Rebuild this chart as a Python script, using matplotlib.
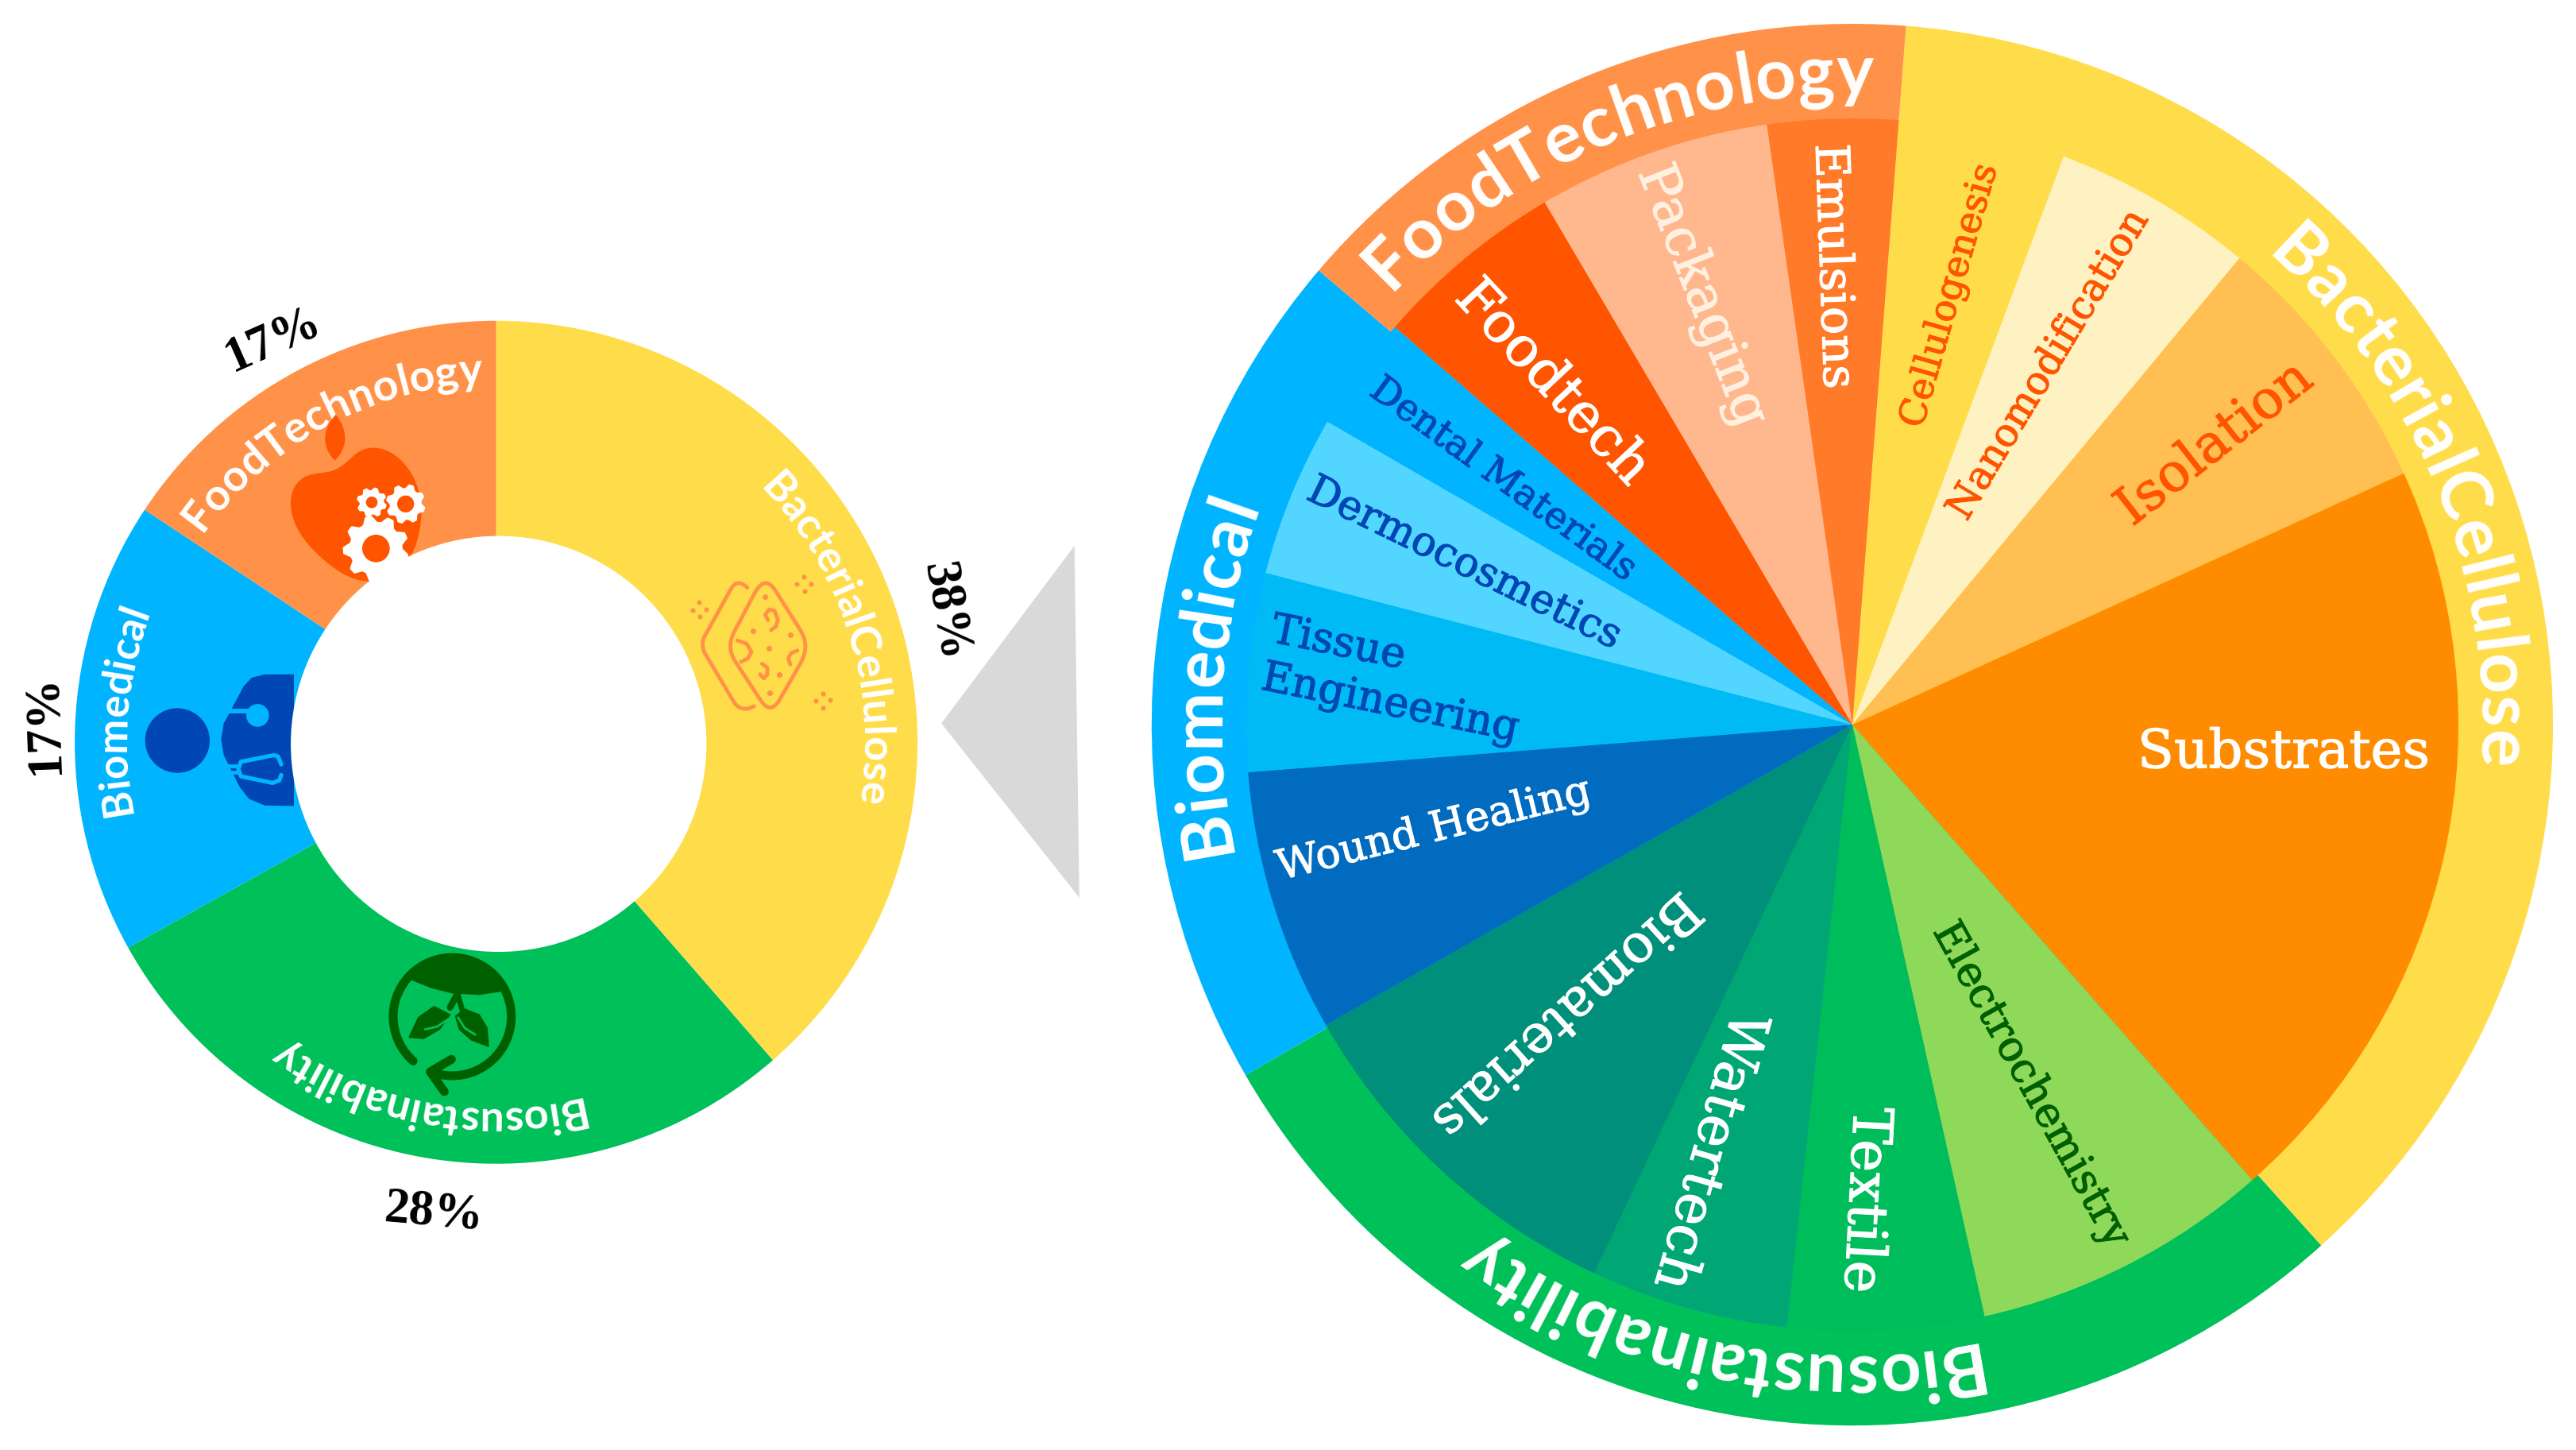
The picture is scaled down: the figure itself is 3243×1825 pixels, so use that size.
import numpy as np
import matplotlib
matplotlib.use('Agg')
import matplotlib.pyplot as plt
import matplotlib.patheffects as pe
from matplotlib.font_manager import FontProperties, findfont, get_font
from matplotlib.patches import Circle, PathPatch, Polygon
from matplotlib.path import Path
from matplotlib.textpath import TextToPath

# left donut, shares
donut_names = ['BacterialCellulose', 'Biosustainability', 'Biomedical', 'FoodTechnology']
donut_shares = [38.6, 28.3, 17.4, 15.7]
donut_labels = ['38%', '28%', '17%', '17%']

# right wheel, outer ring
ring_names = ['BacterialCellulose', 'Biosustainability', 'Biomedical', 'FoodTechnology']
ring_shares = [133.6, 102.0, 70.4, 54.0]

# right wheel, inner slices (clockwise)
slice_names = ['Cellulogenesis', 'Nanomodification', 'Isolation', 'Substrates',
               'Electrochemistry', 'Textile', 'Watertech', 'Biomaterials',
               'Wound Healing', 'Tissue\nEngineering', 'Dermocosmetics', 'Dental Materials',
               'Foodtech', 'Packaging', 'Emulsions']
slice_shares = [16.0, 19.3, 25.8, 73.2, 28.7, 18.8, 19.0, 35.1, 25.2, 19.0, 15.5, 11.0, 18.5, 22.4, 12.5]

group_colors = ['#FFDD4A', '#00C05A', '#00B4FF', '#FF9248']
slice_colors = ['#FFDD4A', '#FFF2C2', '#FFBF52', '#FF8C00',
                '#8FD95A', '#00BD5C', '#00A775', '#008F7A',
                '#006BBF', '#00BAF5', '#52D6FF', '#00B4FF',
                '#FF5500', '#FFB78E', '#FF7B29']

W, H = 1568.0, 882.0  # layout below is in these units
SCALE = 3243.0 / W
DONUT = (302.0, 451.5, 256.5)
WHEEL = (1127.5, 440.8, 426.5)
INNER = 0.865

SERIF = 'DejaVu Serif'
ROUND = 'Lato'

fig = plt.figure(figsize=(32.43, 18.25), dpi=100)


def pie_axes(c):
    cx, cy, r = c
    ax = fig.add_axes([(cx - r) / W, 1 - (cy + r) / H, 2 * r / W, 2 * r / H])
    return ax


ax1 = pie_axes(DONUT)
ax1.pie(donut_shares, colors=group_colors, startangle=90, counterclock=False,
        radius=1, wedgeprops=dict(width=0.52, linewidth=0))
ax1.set_xlim(-1, 1)
ax1.set_ylim(-1, 1)

ax2 = pie_axes(WHEEL)
ax2.pie(ring_shares, colors=group_colors, startangle=85.6, counterclock=False,
        radius=1, wedgeprops=dict(linewidth=0))
ax2.pie(slice_shares, colors=slice_colors, startangle=85.6, counterclock=False,
        radius=INNER, wedgeprops=dict(linewidth=0))
ax2.set_xlim(-1, 1)
ax2.set_ylim(-1, 1)

# overlay for text and icons
ov = fig.add_axes([0, 0, 1, 1])
ov.set_xlim(0, W)
ov.set_ylim(H, 0)
ov.axis('off')
ov.patch.set_alpha(0)

ttp = TextToPath()


def ink(s, prop):
    return ttp.get_text_width_height_descent(s, prop, False)[0]


def pen(s, prop):
    # pen position after s, the bars keep the bearings out of the ink width
    return ink('|' + s + '|', prop) - ink('||', prop)


def bearing(ch, prop):
    font = get_font(findfont(prop))
    font.set_size(prop.get_size_in_points(), 100)
    font.set_text(ch, 0.0)
    return font.get_bitmap_offset()[0] / 64 / SCALE


# letters one by one round a circle, clockwise, tops outward
def curved(s, c, r, mid, size, track=1.0, weight='bold'):
    prop = FontProperties(family=ROUND, size=size, weight=weight)
    k = 100 / 72 / SCALE
    total = pen(s, prop) * k * track
    for i, ch in enumerate(s):
        start = pen(s[:i], prop) * k
        adv = pen(s[:i + 1], prop) * k - start
        ang = np.radians(mid - np.degrees((start * track + adv / 2 - total / 2) / r))
        rot = ang - np.pi / 2
        # agg adds the left bearing along screen x whatever the rotation, take that back
        b = bearing(ch, prop)
        x = c[0] + r * np.cos(ang) - adv / 2 * np.sin(ang) + b * (np.cos(rot) - 1)
        y = c[1] - r * np.sin(ang) - adv / 2 * np.cos(ang) - b * np.sin(rot)
        ov.text(x, y, ch, rotation=np.degrees(rot), rotation_mode='anchor', ha='left', va='baseline',
                color='white', fontproperties=prop)


# ring labels: baseline radius, middle angle, size
ring_layout = [(383, 22.5, 64), (383, 258.0, 64), (383, 176.0, 64), (383, 112.5, 64)]
for name, (r, mid, size) in zip(ring_names, ring_layout):
    curved(name, WHEEL, r, mid, size, track=1.02)

donut_layout = [(224, 17.5, 39), (222, 259.5, 39), (224, 175.5, 38), (218, 118.5, 40)]
for name, (r, mid, size) in zip(donut_names, donut_layout):
    curved(name, DONUT, r, mid, size, weight='bold')

# slice labels: x, y, rotation, size, colour
slice_layout = [
    (1187, 180, 74, 33.5, '#FF5500'),
    (1247, 222, 59, 35.5, '#FF5500'),
    (1348, 270, 38, 48, '#FF5500'),
    (1390, 458, 0, 48.5, 'white'),
    (1236, 660, -61, 38, '#006000'),
    (1135, 730, -93, 50, 'white'),
    (1040, 700, -106, 50, 'white'),
    (953, 617, 222, 48, 'white'),
    (873, 505, 14, 37.5, 'white'),
    (771, 398, -11.5, 38, '#0047B3'),
    (891, 343, -26, 37, '#0047B3'),
    (915, 292, -36, 34, '#0047B3'),
    (945, 233, -47, 50, 'white'),
    (1036, 180, -68.5, 48, '#FFF0E0'),
    (1116, 162, -88, 42.5, 'white'),
]
for name, (x, y, rot, size, col) in zip(slice_names, slice_layout):
    ha = 'left' if '\n' in name else 'center'
    ov.text(x, y, name, rotation=rot, rotation_mode='anchor', ha=ha, va='center',
            ma='left', family=SERIF, fontsize=size, color=col, linespacing=1.25,
            path_effects=[pe.withStroke(linewidth=0.8, foreground=col)])

# percent labels round the donut
pct_layout = [(575, 372, -80), (264, 738, -5), (27, 441, 92), (166, 207, 24)]
for lab, (x, y, rot) in zip(donut_labels, pct_layout):
    ov.text(x, y, lab, rotation=rot, rotation_mode='anchor', ha='center', va='center',
            family='Liberation Serif', weight='bold', fontsize=45, color='black')

# grey pointer between the charts
ov.add_patch(Polygon([(654, 332), (573, 440), (657, 546)], closed=True, fc='#D9D9D9', ec='none'))

orange = '#FF5500'
navy = '#0047B3'
sky = '#00B4FF'
dgreen = '#006000'
peach = '#FF9248'
green = '#00C05A'


def crop(x0, y0, pts):
    a = np.array(pts, dtype=float)
    return np.c_[(x0 + a[:, 0] / 3) / SCALE, (y0 + a[:, 1] / 3) / SCALE]


def gear(cx, cy, r, hole, n=8):
    c = crop(340, 500, [(cx, cy)])[0]
    k = 1 / (3 * SCALE)
    t = np.linspace(0, 2 * np.pi, n * 4, endpoint=False)
    rad = np.where(np.arange(n * 4) % 4 < 2, r, r * 0.8) * k
    pts = np.c_[c[0] + rad * np.cos(t + 0.2), c[1] + rad * np.sin(t + 0.2)]
    ov.add_patch(Polygon(pts, closed=True, fc='white', ec='white', lw=1.5, joinstyle='round', zorder=5))
    ov.add_patch(Circle(c, hole * k, fc=orange, ec='none', zorder=6))


def line(x0, y0, pts, color, lw, zorder=4):
    p = crop(x0, y0, pts)
    ov.plot(p[:, 0], p[:, 1], color=color, lw=lw, zorder=zorder, solid_capstyle='round', solid_joinstyle='round')


def dots(x0, y0, pts, color, s, zorder=4):
    p = crop(x0, y0, pts)
    ov.scatter(p[:, 0], p[:, 1], s=s, color=color, linewidths=0, zorder=zorder)


# apple
apple = [(250, 270), (300, 250), (320, 190), (390, 190), (470, 190), (540, 270), (560, 350),
         (575, 400), (575, 440), (565, 500), (555, 550), (545, 575), (530, 600),
         (450, 700), (400, 700), (340, 690), (280, 680), (200, 620), (140, 550),
         (100, 500), (78, 450), (78, 400), (78, 340), (110, 300), (160, 290),
         (200, 282), (225, 285), (250, 270)]
codes = [Path.MOVETO] + [Path.CURVE4] * 27
ov.add_patch(PathPatch(Path(crop(340, 500, apple), codes), fc=orange, ec='none', zorder=3))
leaf = [(248, 65), (295, 120), (295, 190), (245, 238), (195, 190), (195, 120), (248, 65)]
ov.add_patch(PathPatch(Path(crop(340, 500, leaf), [Path.MOVETO] + [Path.CURVE4] * 6),
                       fc=orange, ec='none', zorder=3))

# doctor
head = crop(170, 830, [(160, 305)])[0]
ov.add_patch(Circle(head, 122 / 3 / SCALE, fc=navy, ec='none', zorder=3))
body = [(600, 55), (490, 55), (440, 68), (410, 100), (365, 185), (335, 240), (325, 300), (335, 360),
        (365, 420), (395, 480), (430, 525), (490, 550), (600, 552)]
ov.add_patch(Polygon(crop(170, 830, body), closed=True, fc=navy, ec='none', zorder=3))
line(170, 830, [(345, 195), (430, 195)], sky, 4.2)
ov.add_patch(Circle(crop(170, 830, [(463, 210)])[0], 43 / 3 / SCALE, fc=sky, ec='none', zorder=4))
line(170, 830, [(345, 400), (385, 400)], sky, 3.5)
line(170, 830, [(360, 425), (390, 425)], sky, 3.5)
line(170, 830, [(552, 395), (540, 365), (525, 360), (400, 385), (390, 412), (400, 440),
                (520, 465), (545, 455), (552, 435)], sky, 3.8)

# hole of the donut goes over the icons, the gears come after it
ov.add_patch(Circle((303.5, 452.5), 126.5, fc='white', ec='none', zorder=4.5))
gear(400, 570, 122, 52, n=9)
gear(384, 396, 54, 22)
gear(512, 402, 72, 32)

# recycle ring with leaves
t = np.radians(np.r_[np.linspace(228.6, 0, 90), np.linspace(360, 250, 50)])
ring = np.c_[298 + 223 * np.cos(t), 297 - 223 * np.sin(t)]
line(470, 1180, ring, dgreen, 8, 3)
line(470, 1180, [(295, 458), (215, 505), (268, 580)], dgreen, 8, 3)
t = np.radians(np.linspace(138, 24.5, 30))
arc = np.c_[298 + 238 * np.cos(t), 297 - 238 * np.sin(t)]
cap = np.r_[arc, [(400, 215), (300, 210), (220, 190), (145, 160)]]
ov.add_patch(Polygon(crop(470, 1180, cap), closed=True, fc=dgreen, ec='none', zorder=3))
line(470, 1180, [(318, 210), (290, 262)], dgreen, 6, 3)
line(470, 1180, [(318, 210), (335, 270)], dgreen, 5, 3)
ov.add_patch(Polygon(crop(470, 1180, [(135, 375), (170, 300), (230, 258), (290, 290), (250, 345), (190, 380)]),
                     closed=True, fc=dgreen, ec=dgreen, lw=1, joinstyle='round', zorder=3))
ov.add_patch(Polygon(crop(470, 1180, [(310, 295), (345, 268), (400, 290), (430, 340), (435, 410), (370, 385), (325, 345)]),
                     closed=True, fc=dgreen, ec=dgreen, lw=1, joinstyle='round', zorder=3))
line(470, 1180, [(195, 345), (240, 335), (285, 305)], green, 2, 3.5)
line(470, 1180, [(320, 300), (345, 340), (385, 365)], green, 2, 3.5)

# cellulose sheet
front = [(272, 135), (310, 70), (348, 128), (442, 277), (480, 335), (445, 400), (365, 540), (330, 600),
         (293, 543), (197, 397), (160, 340), (197, 277), (272, 135)]
codes = [Path.MOVETO, Path.CURVE3, Path.CURVE3, Path.LINETO, Path.CURVE3, Path.CURVE3, Path.LINETO,
         Path.CURVE3, Path.CURVE3, Path.LINETO, Path.CURVE3, Path.CURVE3, Path.LINETO]
ov.add_patch(PathPatch(Path(crop(860, 700, front), codes), fc='none', ec=peach, lw=3.5, zorder=3))
back = [(243, 118), (210, 85), (185, 115), (82, 300), (65, 330), (82, 365), (195, 555), (225, 590), (268, 565)]
codes = [Path.MOVETO, Path.CURVE3, Path.CURVE3, Path.LINETO, Path.CURVE3, Path.CURVE3, Path.LINETO, Path.CURVE3, Path.CURVE3]
ov.add_patch(PathPatch(Path(crop(860, 700, back), codes), fc='none', ec=peach, lw=3.5, capstyle='round', zorder=3))
line(860, 700, [(320, 240), (310, 220), (325, 200), (345, 205), (358, 240), (350, 265), (332, 278)], peach, 3.5, 3)
line(860, 700, [(205, 317), (240, 330), (258, 360), (245, 385), (218, 398)], peach, 3.5, 3)
line(860, 700, [(298, 405), (318, 420), (318, 445), (305, 460), (290, 445)], peach, 3.5, 3)
line(860, 700, [(432, 355), (408, 365), (397, 385), (405, 408)], peach, 3.5, 3)
dots(860, 700, [(310, 152), (263, 280), (405, 296), (324, 347), (364, 447), (328, 516)], peach, 26, 3)
dots(860, 700, [(60, 173), (35, 202), (87, 199), (62, 227), (456, 77), (430, 105), (484, 103), (458, 131),
                (527, 518), (501, 545), (555, 543), (529, 571)], peach, 20, 3)

fig.savefig('out.png', dpi=100, facecolor='white')
